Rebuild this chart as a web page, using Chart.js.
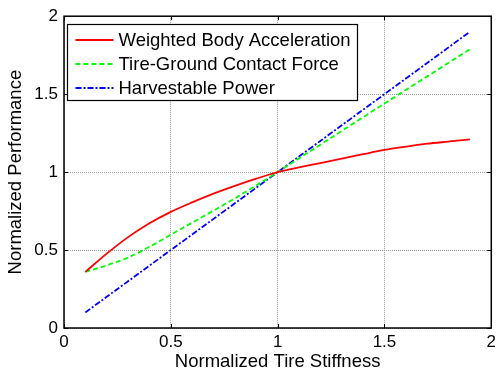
<!DOCTYPE html>
<html><head><meta charset="utf-8">
<script src="https://cdn.jsdelivr.net/npm/chart.js@4/dist/chart.umd.min.js"></script>
<style>html,body{margin:0;padding:0;background:#fff}#wrap{width:500px;height:373px;position:relative}</style>
</head><body><div id="wrap"><canvas id="c"></canvas></div>
<script>
const stiffness = [0.1,0.2,0.3,0.4,0.5,0.6,0.7,0.8,0.9,1.0,1.1,1.2,1.3,1.4,1.5,1.6,1.7,1.8,1.9];
const bodyAccel = [0.36,0.477,0.583,0.672,0.745,0.806,0.862,0.912,0.958,1.0,1.03,1.058,1.087,1.115,1.142,1.163,1.182,1.196,1.21];
const contactForce = [0.36,0.402,0.452,0.521,0.598,0.676,0.753,0.832,0.915,1.0,1.088,1.176,1.264,1.352,1.44,1.527,1.614,1.701,1.788];
const harvestPower = [0.1,0.2,0.3,0.4,0.5,0.6,0.7,0.8,0.9,1.0,1.1,1.2,1.3,1.4,1.5,1.6,1.7,1.8,1.9];
const seriesNames = ['Weighted Body Acceleration','Tire-Ground Contact Force','Harvestable Power'];
const xTicks = [0,0.5,1,1.5,2];
const yTicks = [0,0.5,1,1.5,2];

const FONT = 'Liberation Sans, Arial, sans-serif';
const pts = arr => arr.map((v,i)=>({x:stiffness[i],y:v}));

const boxPlugin = {
  id:'box',
  afterDatasetsDraw(chart){
    const {ctx, chartArea:a, scales:{x,y}} = chart;
    ctx.save();
    ctx.strokeStyle='#000'; ctx.lineWidth=1.5;
    ctx.strokeRect(a.left,a.top,a.right-a.left,a.bottom-a.top);
    ctx.lineWidth=1;
    ctx.beginPath();
    xTicks.forEach(t=>{const px=Math.round(x.getPixelForValue(t))+0.5;
      ctx.moveTo(px,a.bottom); ctx.lineTo(px,a.bottom-4);
      ctx.moveTo(px,a.top); ctx.lineTo(px,a.top+4);});
    yTicks.forEach(t=>{const py=Math.round(y.getPixelForValue(t))+0.5;
      ctx.moveTo(a.left,py); ctx.lineTo(a.left+4,py);
      ctx.moveTo(a.right,py); ctx.lineTo(a.right-4,py);});
    ctx.stroke();
    // legend
    const lx=67.5, ly=24.5, lw=290, lh=76;
    ctx.fillStyle='#fff'; ctx.fillRect(lx,ly,lw,lh);
    ctx.strokeStyle='#000'; ctx.lineWidth=1.2; ctx.strokeRect(lx,ly,lw,lh);
    ctx.font='18.5px '+FONT; ctx.textBaseline='middle'; ctx.fillStyle='#000';
    chart.data.datasets.forEach((ds,i)=>{
      const yy=ly+15.5+i*24;
      ctx.save();
      ctx.strokeStyle=ds.borderColor; ctx.lineWidth=ds.borderWidth;
      ctx.setLineDash(ds.borderDash||[]);
      ctx.beginPath(); ctx.moveTo(lx+8,yy); ctx.lineTo(lx+46,yy); ctx.stroke();
      ctx.restore();
      ctx.fillText(ds.label, lx+51, yy+1);
    });
    ctx.restore();
  }
};

new Chart(document.getElementById('c'),{
  type:'line',
  data:{datasets:[
    {label:seriesNames[0],data:pts(bodyAccel),borderColor:'#ff0000',borderWidth:1.8,pointRadius:0,cubicInterpolationMode:'monotone',fill:false},
    {label:seriesNames[1],data:pts(contactForce),borderColor:'#00ff00',borderWidth:1.8,borderDash:[5,3],pointRadius:0,cubicInterpolationMode:'monotone',fill:false},
    {label:seriesNames[2],data:pts(harvestPower),borderColor:'#0000ff',borderWidth:1.8,borderDash:[6,2,2,2],pointRadius:0,tension:0,fill:false}
  ]},
  options:{
    responsive:true, maintainAspectRatio:false, animation:false,
    layout:{padding:{top:14,right:2,left:0,bottom:0}},
    plugins:{legend:{display:false},tooltip:{enabled:false}},
    scales:{
      x:{type:'linear',min:0,max:2,
        afterBuildTicks:s=>{s.ticks=xTicks.map(v=>({value:v}));},
        afterFit:s=>{s.height=45;},
        grid:{color:'#999',lineWidth:1,drawTicks:false},
        border:{display:false,dash:[1,1]},
        ticks:{font:{family:FONT,size:17},color:'#000',padding:4,maxRotation:0,callback:v=>String(v)},
        title:{display:true,text:'Normalized Tire Stiffness',font:{family:FONT,size:18.5},color:'#000',padding:{top:0,bottom:0}}
      },
      y:{type:'linear',min:0,max:2,
        afterBuildTicks:s=>{s.ticks=yTicks.map(v=>({value:v}));},
        afterFit:s=>{s.width=64;},
        grid:{color:'#999',lineWidth:1,drawTicks:false},
        border:{display:false,dash:[1,1]},
        ticks:{font:{family:FONT,size:17},color:'#000',padding:6,callback:v=>String(v)},
        title:{display:true,text:'Normalized Performance',font:{family:FONT,size:18.5},color:'#000',padding:{top:5,bottom:0}}
      }
    }
  },
  plugins:[boxPlugin]
});
</script></body></html>
